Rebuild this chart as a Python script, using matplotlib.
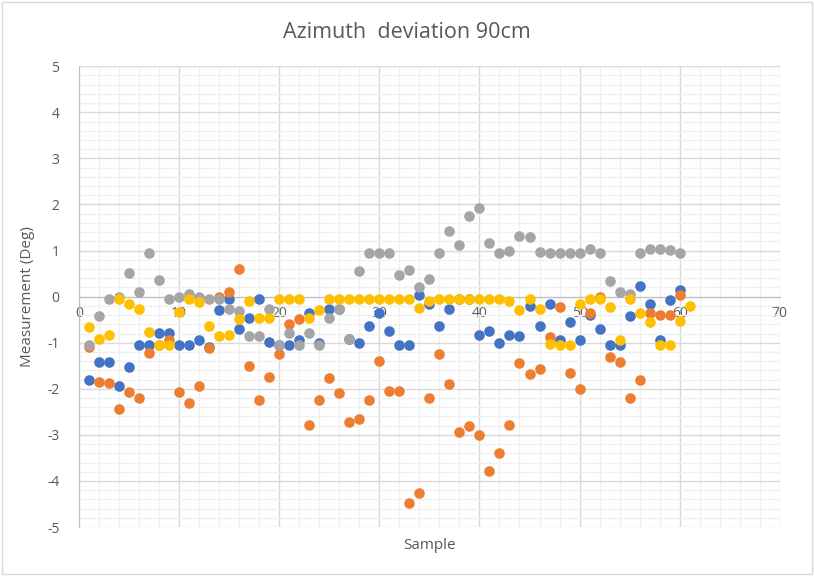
import matplotlib.pyplot as plt
from matplotlib.ticker import MultipleLocator
from matplotlib.patches import Rectangle

plt.rcParams["font.family"] = ["Open Sans", "DejaVu Sans"]
plt.rcParams["axes.unicode_minus"] = False

# sample index for each series
samples = list(range(1, 61))
samples_yellow = list(range(1, 62))

blue = [-1.80, -1.42, -1.42, -1.95, -1.52, -1.06, -1.06, -0.79, -0.78, -1.06,
        -1.06, -0.95, -1.10, -0.30, -0.05, -0.70, -0.46, -0.05, -0.99, -1.06,
        -1.06, -0.94, -0.35, -1.00, -0.27, -0.27, -0.91, -1.00, -0.64, -0.36,
        -0.75, -1.06, -1.06, 0.04, -0.16, -0.63, -0.27, -0.05, -0.05, -0.84,
        -0.75, -1.00, -0.84, -0.85, -0.20, -0.63, -0.16, -0.95, -0.56, -0.95,
        -0.39, -0.70, -1.06, -1.06, -0.41, 0.23, -0.15, -0.95, -0.07, 0.15]

orange = [-1.09, -1.85, -1.88, -2.44, -2.08, -2.20, -1.22, -1.05, -0.95, -2.08,
          -2.30, -1.93, -1.11, 0.00, 0.09, 0.59, -1.50, -2.25, -1.74, -1.25,
          -0.60, -0.48, -2.78, -2.24, -1.76, -2.09, -2.71, -2.65, -2.24, -1.40,
          -2.05, -2.05, -4.48, -4.27, -2.20, -1.25, -1.89, -2.94, -2.80, -3.00,
          -3.79, -3.40, -2.78, -1.44, -1.67, -1.56, -0.88, -0.22, -1.65, -2.00,
          -0.36, 0.00, -1.31, -1.42, -2.19, -1.80, -0.36, -0.40, -0.40, 0.03]

gray = [-1.05, -0.43, -0.05, 0.00, 0.51, 0.09, 0.94, 0.36, -0.05, 0.00,
        0.05, 0.00, -0.05, -0.05, -0.27, -0.32, -0.86, -0.86, -0.27, -1.05,
        -0.79, -1.06, -0.79, -1.06, -0.46, -0.27, -0.91, 0.55, 0.95, 0.95,
        0.95, 0.47, 0.57, 0.22, 0.38, 0.95, 1.43, 1.11, 1.75, 1.92,
        1.17, 0.95, 0.98, 1.31, 1.29, 0.97, 0.95, 0.95, 0.95, 0.95,
        1.04, 0.95, 0.33, 0.10, 0.05, 0.95, 1.04, 1.04, 1.02, 0.95]

yellow = [-0.65, -0.91, -0.84, -0.05, -0.15, -0.26, -0.77, -1.06, -1.05, -0.34,
          -0.05, -0.12, -0.63, -0.86, -0.84, -0.48, -0.10, -0.46, -0.46, -0.05,
          -0.05, -0.05, -0.46, -0.30, -0.05, -0.05, -0.05, -0.05, -0.05, -0.05,
          -0.05, -0.05, -0.05, -0.25, -0.10, -0.05, -0.05, -0.05, -0.05, -0.05,
          -0.05, -0.05, -0.10, -0.30, -0.05, -0.27, -1.02, -1.05, -1.05, -0.16,
          -0.05, -0.05, -0.22, -0.95, -0.05, -0.36, -0.56, -1.06, -1.06, -0.52,
          -0.20]

fig = plt.figure(figsize=(8.14, 5.76), dpi=100)
ax = fig.add_axes([0.097, 0.085, 0.861, 0.80])

fig.patches.append(Rectangle((0.002, 0.003), 0.996, 0.994, transform=fig.transFigure,
                             fill=False, ec="#D9D9D9", lw=1.0))

ms = 58
ax.scatter(samples, blue, s=ms, color="#4472C4", zorder=3, linewidths=0)
ax.scatter(samples, orange, s=ms, color="#ED7D31", zorder=4, linewidths=0)
ax.scatter(samples, gray, s=ms, color="#A5A5A5", zorder=5, linewidths=0)
ax.scatter(samples_yellow, yellow, s=ms, color="#FFC000", zorder=6, linewidths=0)

ax.set_xlim(0, 70)
ax.set_ylim(-5, 5)
ax.xaxis.set_major_locator(MultipleLocator(10))
ax.xaxis.set_minor_locator(MultipleLocator(2))
ax.yaxis.set_major_locator(MultipleLocator(1))
ax.yaxis.set_minor_locator(MultipleLocator(0.2))
ax.grid(which="major", color="#D9D9D9", lw=1.0, zorder=0)
ax.grid(which="minor", color="#F0F0F0", lw=1.0, zorder=0)
ax.set_axisbelow(True)

for s in ["top", "right"]:
    ax.spines[s].set_visible(False)
ax.spines["bottom"].set_position(("data", 0))
ax.spines["bottom"].set_color("#BFBFBF")
ax.spines["left"].set_color("#BFBFBF")
ax.tick_params(which="both", length=0, colors="#595959", labelsize=10)
ax.tick_params(axis="x", pad=7)
ax.tick_params(axis="y", pad=14)

fig.text(0.5, 1 - 32 / 576, "Azimuth  deviation 90cm", ha="center", va="center",
         fontsize=15.5, color="#595959")
ax.set_ylabel("Measurement (Deg)", fontsize=11, color="#595959")
ax.yaxis.set_label_coords(-0.063, 0.5)
ax.text(0.5, -0.04, "Sample", transform=ax.transAxes, ha="center", va="center",
        fontsize=11, color="#595959")

fig.savefig("out.png")
plt.close(fig)
